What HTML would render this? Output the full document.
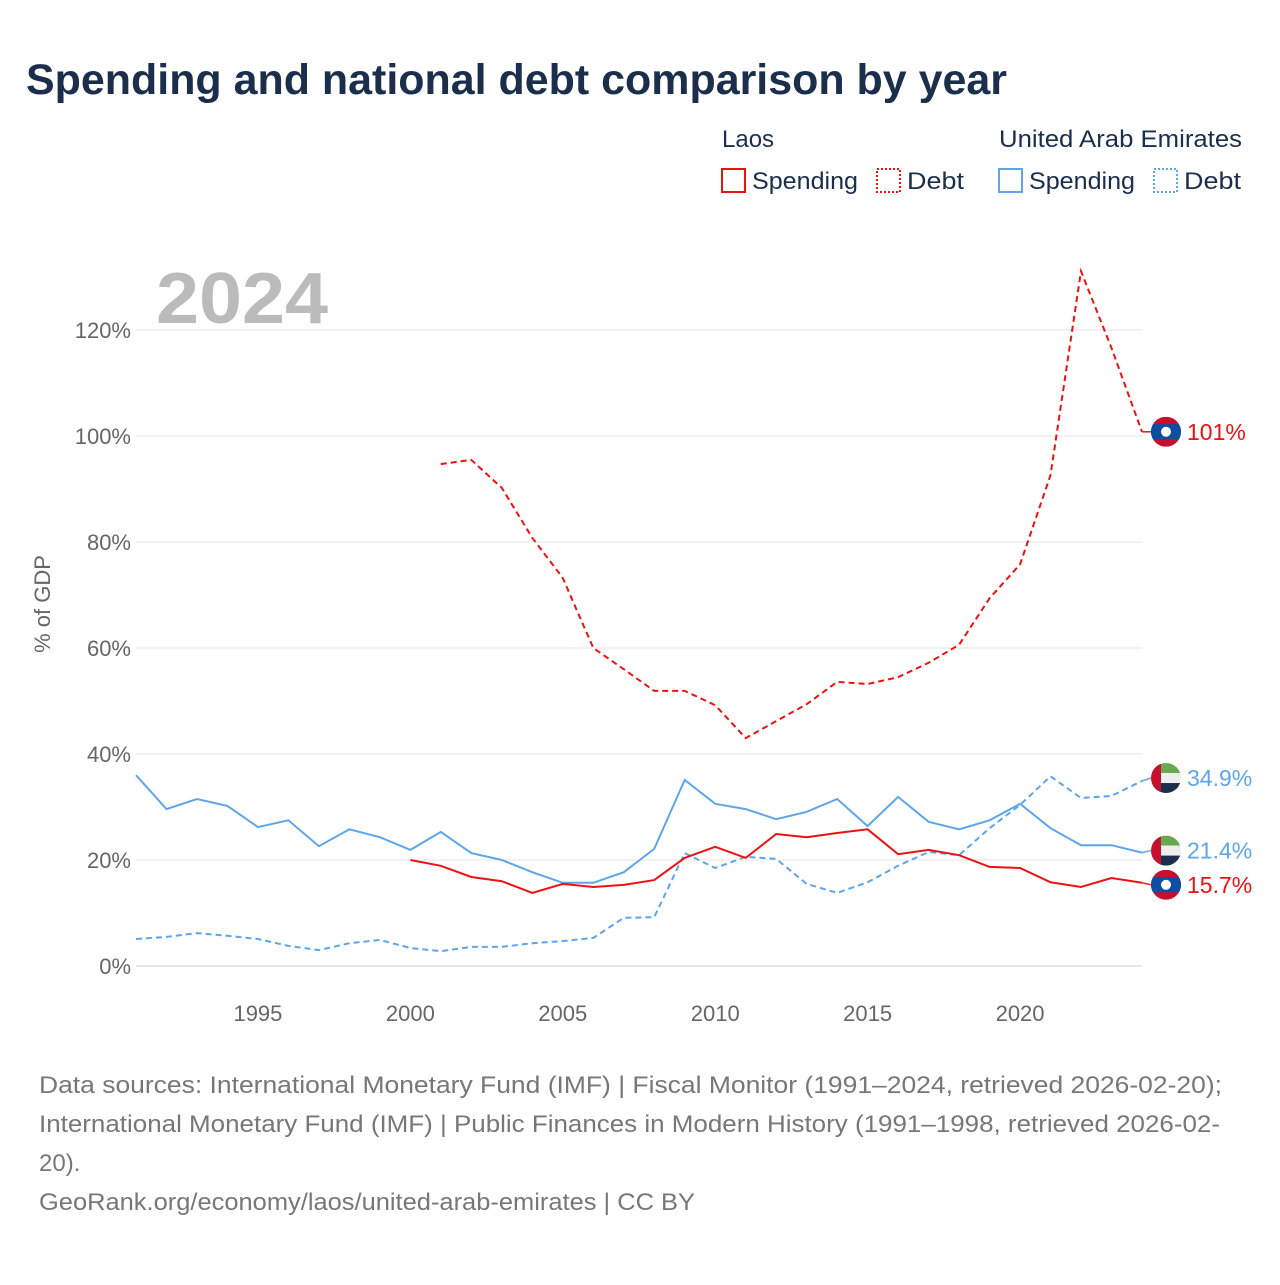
<!DOCTYPE html>
<html><head><meta charset="utf-8"><style>
body{margin:0;background:#fff;width:1280px;height:1280px;overflow:hidden;font-family:"Liberation Sans",sans-serif}
svg text{font-family:"Liberation Sans",sans-serif}
</style></head><body>
<svg id="chart" width="1280" height="1280">
<text x="26" y="94" font-size="43" font-weight="bold" fill="#1b2f4d" textLength="981" lengthAdjust="spacingAndGlyphs">Spending and national debt comparison by year</text>
<g>
<text x="722" y="147" font-size="24" fill="#1b2f4d">Laos</text>
<text x="999" y="147" font-size="24" fill="#1b2f4d" textLength="243" lengthAdjust="spacingAndGlyphs">United Arab Emirates</text>
<rect x="722" y="169" width="23" height="23" fill="none" stroke="#ee1111" stroke-width="2"/>
<text x="752" y="189" font-size="24" fill="#1b2f4d" textLength="106" lengthAdjust="spacingAndGlyphs">Spending</text>
<rect x="877" y="169" width="23" height="23" fill="none" stroke="#ee1111" stroke-width="2" stroke-dasharray="2,2"/>
<text x="907" y="189" font-size="24" fill="#1b2f4d" textLength="57" lengthAdjust="spacingAndGlyphs">Debt</text>
<rect x="999" y="169" width="23" height="23" fill="none" stroke="#5ea5ea" stroke-width="2"/>
<text x="1029" y="189" font-size="24" fill="#1b2f4d" textLength="106" lengthAdjust="spacingAndGlyphs">Spending</text>
<rect x="1154" y="169" width="23" height="23" fill="none" stroke="#5ea5ea" stroke-width="2" stroke-dasharray="2,2"/>
<text x="1184" y="189" font-size="24" fill="#1b2f4d" textLength="57" lengthAdjust="spacingAndGlyphs">Debt</text>
</g>
<text x="156" y="323" font-size="72" font-weight="bold" fill="#bbbbbb" textLength="172" lengthAdjust="spacingAndGlyphs">2024</text>
<text transform="translate(50,604) rotate(-90)" text-anchor="middle" font-size="22" fill="#666">% of GDP</text>
<g id="grid"></g><g id="series"></g><g id="ends"></g>
<g font-size="24" fill="#777">
<text x="39" y="1093" textLength="1183" lengthAdjust="spacingAndGlyphs">Data sources: International Monetary Fund (IMF) | Fiscal Monitor (1991–2024, retrieved 2026-02-20);</text>
<text x="39" y="1132" textLength="1181" lengthAdjust="spacingAndGlyphs">International Monetary Fund (IMF) | Public Finances in Modern History (1991–1998, retrieved 2026-02-</text>
<text x="39" y="1171">20).</text>
<text x="39" y="1210" textLength="656" lengthAdjust="spacingAndGlyphs">GeoRank.org/economy/laos/united-arab-emirates | CC BY</text>
</g>
</svg>
<script>
const yTicks=[0,20,40,60,80,100,120];
const xTicks=[1995,2000,2005,2010,2015,2020];
const uaeSpending=[36.0,29.6,31.5,30.2,26.2,27.5,22.6,25.8,24.3,21.9,25.3,21.3,20.0,17.7,15.7,15.7,17.7,22.1,35.1,30.6,29.6,27.7,29.1,31.5,26.4,31.9,27.2,25.8,27.5,30.6,26.0,22.8,22.8,21.4];
const uaeDebt=[5.1,5.5,6.2,5.7,5.1,3.8,3.0,4.3,4.9,3.4,2.8,3.6,3.6,4.3,4.7,5.3,9.1,9.2,21.3,18.5,20.6,20.2,15.5,13.8,15.8,18.9,21.5,20.9,26.0,30.4,35.8,31.7,32.1,34.9];
const laosSpending=[20.0,18.9,16.8,16.0,13.8,15.5,14.9,15.3,16.2,20.4,22.5,20.4,24.9,24.3,25.1,25.8,21.1,21.9,20.9,18.7,18.5,15.8,14.9,16.6,15.7];
const laosDebt=[94.7,95.5,90.2,80.8,73.2,60.0,56.0,51.9,51.9,49.2,43.0,46.2,49.4,53.6,53.2,54.5,57.2,60.6,69.4,75.8,92.6,131.1,116.6,100.8];
const X=y=>136+(y-1991)*(1142-136)/33;
const Y=v=>966-v*5.3;
const NS="http://www.w3.org/2000/svg";
function mk(t,a,p){const e=document.createElementNS(NS,t);for(const k in a)e.setAttribute(k,a[k]);p.appendChild(e);return e;}
const grid=document.getElementById('grid');
yTicks.forEach(v=>{
 const l=mk('line',{x1:136,x2:1142,y1:Y(v),y2:Y(v),stroke:v===0?'#ccc':'#e6e6e6','stroke-width':1},grid);
 
 
 const t=mk('text',{x:131,y:Y(v)+8,'text-anchor':'end','font-size':22,fill:'#666'},grid);
 t.textContent=v+'%';
 
 
});
xTicks.forEach(v=>{
 const t=mk('text',{x:X(v),y:1021,'text-anchor':'middle','font-size':22,fill:'#666'},grid);
 t.textContent=v;
 
 
});
const ser=document.getElementById('series');
function line(vals,start,color,dash,name){
 const d=vals.map((v,i)=>(i?'L':'M')+X(start+i).toFixed(1)+','+Y(v).toFixed(1)).join('');
 const p=mk('path',{d:d,fill:'none',stroke:color,'stroke-width':2,'stroke-dasharray':dash||'none'},ser);
 
 
}
line(uaeDebt,1991,'#5ea5ea','6,4','line-uae-debt');
line(uaeSpending,1991,'#5ea5ea','','line-uae-spending');
line(laosDebt,2001,'#ee1111','6,4','line-laos-debt');
line(laosSpending,2000,'#ee1111','','line-laos-spending');
const ends=document.getElementById('ends');
function connector(v,cy,color){
 const l=mk('path',{d:'M1142,'+Y(v).toFixed(1)+'L1151,'+cy.toFixed(1),stroke:color,'stroke-width':1.5,fill:'none'},ends);
 
 
}
function laosFlag(cy,name,label,color){
 const g=mk('g',{},ends);
 
 
 const id='c'+Math.round(cy);
 const cp=mk('clipPath',{id:id},g);mk('circle',{cx:1166,cy:cy,r:15},cp);
 const f=mk('g',{'clip-path':'url(#'+id+')'},g);
 mk('rect',{x:1150,y:cy-15,width:32,height:30,fill:'#c8102e'},f);
 mk('rect',{x:1150,y:cy-7.5,width:32,height:15,fill:'#0b4ea2'},f);
 mk('circle',{cx:1166,cy:cy,r:5,fill:'#fff'},f);
 const t=mk('text',{x:1187,y:cy+8,'font-size':23,fill:color},g);t.textContent=label;
}
function uaeFlag(cy,name,label){
 const g=mk('g',{},ends);
 
 
 const id='u'+Math.round(cy);
 const cp=mk('clipPath',{id:id},g);mk('circle',{cx:1166,cy:cy,r:15},cp);
 const f=mk('g',{'clip-path':'url(#'+id+')'},g);
 mk('rect',{x:1150,y:cy-15,width:32,height:10,fill:'#6aa84f'},f);
 mk('rect',{x:1150,y:cy-5,width:32,height:10,fill:'#eeeeee'},f);
 mk('rect',{x:1150,y:cy+5,width:32,height:10,fill:'#1b2f4d'},f);
 mk('rect',{x:1150,y:cy-15,width:11,height:30,fill:'#c8102e'},f);
 const t=mk('text',{x:1187,y:cy+8,'font-size':23,fill:'#5ea5ea'},g);t.textContent=label;
}
const lastLD=laosDebt[laosDebt.length-1],lastUD=uaeDebt[uaeDebt.length-1],lastUS=uaeSpending[uaeSpending.length-1],lastLS=laosSpending[laosSpending.length-1];
const cLD=Y(lastLD),cUD=Y(lastUD)-3,cUS=Y(lastUS)-2,cLS=Y(lastLS)+2;
connector(lastLD,cLD,'#ee1111');connector(lastUD,cUD,'#5ea5ea');connector(lastUS,cUS,'#5ea5ea');connector(lastLS,cLS,'#ee1111');
laosFlag(cLD,'end-label-laos-debt',Math.round(lastLD)+'%','#ee1111');
uaeFlag(cUD,'end-label-uae-debt',lastUD.toFixed(1)+'%');
uaeFlag(cUS,'end-label-uae-spending',lastUS.toFixed(1)+'%');
laosFlag(cLS,'end-label-laos-spending',lastLS.toFixed(1)+'%','#ee1111');
</script>
</body></html>
